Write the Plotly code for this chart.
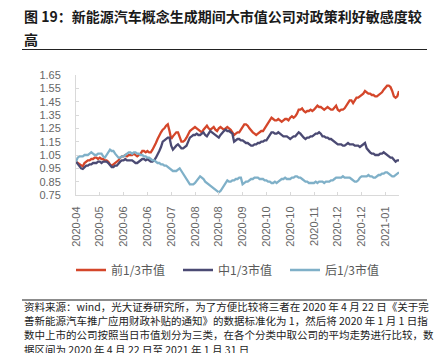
import plotly.graph_objects as go

tick_labels = ["2020-04", "2020-05", "2020-06", "2020-06", "2020-07", "2020-08", "2020-08",
               "2020-09", "2020-10", "2020-10", "2020-11", "2020-12", "2020-12", "2021-01"]
tick_step = 14

top_third = [
    1.00, 0.99, 0.98, 0.97, 0.965, 0.99, 1.00, 1.01, 1.01, 1.02,
    1.02, 1.03, 1.03, 1.02, 1.03, 1.02, 1.02, 1.01, 1.01, 1.00,
    0.98, 0.97, 0.98, 0.99, 1.00, 1.01, 1.03, 1.04, 1.04, 1.05,
    1.04, 1.05, 1.05, 1.05, 1.06, 1.05, 1.04, 1.05, 1.06, 1.08,
    1.08, 1.07, 1.08, 1.07, 1.07, 1.09, 1.11, 1.14, 1.17, 1.20,
    1.22, 1.24, 1.25, 1.27, 1.28, 1.23, 1.17, 1.19, 1.21, 1.22,
    1.22, 1.19, 1.15, 1.15, 1.16, 1.18, 1.21, 1.23, 1.24, 1.25,
    1.26, 1.25, 1.24, 1.23, 1.22, 1.24, 1.26, 1.27, 1.25, 1.24,
    1.25, 1.26, 1.24, 1.23, 1.25, 1.26, 1.25, 1.24, 1.25, 1.26,
    1.25, 1.24, 1.22, 1.20, 1.21, 1.22, 1.22, 1.24, 1.26, 1.28,
    1.28, 1.27, 1.25, 1.23, 1.22, 1.21, 1.20, 1.21, 1.22, 1.23,
    1.23, 1.25, 1.27, 1.28, 1.31, 1.33, 1.32, 1.31, 1.31, 1.32,
    1.31, 1.30, 1.31, 1.32, 1.32, 1.31, 1.33, 1.34, 1.33, 1.34,
    1.36, 1.39, 1.39, 1.40, 1.38, 1.37, 1.38, 1.38, 1.39, 1.38,
    1.39, 1.41, 1.42, 1.41, 1.41, 1.40, 1.39, 1.40, 1.41, 1.40,
    1.39, 1.39, 1.41, 1.42, 1.39, 1.38, 1.39, 1.39, 1.40, 1.42,
    1.45, 1.46, 1.46, 1.44, 1.46, 1.48, 1.48, 1.49, 1.50, 1.51,
    1.53, 1.52, 1.51, 1.51, 1.50, 1.50, 1.49, 1.49, 1.50, 1.51,
    1.52, 1.54, 1.56, 1.57, 1.57, 1.56, 1.53, 1.49, 1.48, 1.49,
    1.53,
]

mid_third = [
    1.00, 0.98, 0.97, 0.95, 0.945, 0.96, 0.97, 0.97, 0.98, 0.98,
    0.99, 0.99, 0.99, 1.00, 1.00, 0.99, 1.00, 1.00, 1.00, 0.99,
    0.97, 0.96, 0.96, 0.97, 0.97, 0.99, 1.00, 1.01, 1.01, 1.02,
    1.01, 1.01, 1.01, 1.01, 1.00, 0.99, 0.99, 1.00, 1.01, 1.02,
    1.02, 1.01, 1.02, 1.01, 1.00, 1.00, 1.01, 1.03, 1.05, 1.08,
    1.11, 1.15, 1.16, 1.17, 1.18, 1.18, 1.12, 1.09, 1.11, 1.12,
    1.13, 1.11, 1.10, 1.10, 1.11, 1.12, 1.15, 1.18, 1.19, 1.20,
    1.20, 1.21, 1.20, 1.20, 1.21, 1.22, 1.20, 1.19, 1.21, 1.23,
    1.22, 1.21, 1.20, 1.19, 1.18, 1.20, 1.22, 1.23, 1.24, 1.23,
    1.23, 1.22, 1.21, 1.15, 1.16, 1.17, 1.17, 1.16, 1.16, 1.15,
    1.14, 1.14, 1.13, 1.12, 1.12, 1.13, 1.13, 1.14, 1.14, 1.15,
    1.15, 1.16, 1.16, 1.18, 1.20, 1.22, 1.22, 1.21, 1.21, 1.22,
    1.21, 1.20, 1.19, 1.19, 1.19, 1.18, 1.17, 1.18, 1.19, 1.19,
    1.21, 1.22, 1.21, 1.19, 1.18, 1.17, 1.18, 1.18, 1.19, 1.19,
    1.20, 1.21, 1.21, 1.22, 1.21, 1.19, 1.19, 1.18, 1.18, 1.17,
    1.17, 1.16, 1.15, 1.14, 1.13, 1.13, 1.13, 1.12, 1.12, 1.13,
    1.14, 1.13, 1.13, 1.13, 1.12, 1.12, 1.12, 1.11, 1.12, 1.13,
    1.14, 1.10, 1.08, 1.07, 1.06, 1.06, 1.05, 1.05, 1.05, 1.06,
    1.06, 1.07, 1.06, 1.05, 1.04, 1.03, 1.03, 1.01, 1.00, 1.01,
    1.01,
]

low_third = [
    1.00, 1.03, 1.04, 1.04, 1.04, 1.05, 1.05, 1.05, 1.06, 1.07,
    1.06, 1.05, 1.05, 1.06, 1.06, 1.06, 1.04, 1.03, 1.05, 1.07,
    1.09, 1.08, 1.08, 1.06, 1.04, 1.03, 1.03, 1.04, 1.04, 1.05,
    1.06, 1.07, 1.07, 1.06, 1.07, 1.07, 1.06, 1.06, 1.05, 1.05,
    1.04, 1.04, 1.03, 1.03, 1.02, 1.01, 1.01, 1.00, 0.99, 0.99,
    0.98, 0.98, 0.97, 0.97, 0.96, 0.95, 0.94, 0.93, 0.93, 0.93,
    0.94, 0.95, 0.93, 0.91, 0.89, 0.87, 0.85, 0.83, 0.83, 0.83,
    0.84, 0.86, 0.88, 0.89, 0.88, 0.87, 0.85, 0.84, 0.83, 0.82,
    0.81, 0.80, 0.79, 0.78, 0.77, 0.78, 0.80, 0.82, 0.84, 0.86,
    0.85, 0.85, 0.86, 0.86, 0.87, 0.87, 0.88, 0.88, 0.83, 0.84,
    0.85, 0.85, 0.86, 0.87, 0.87, 0.88, 0.88, 0.88, 0.87, 0.87,
    0.87, 0.86, 0.86, 0.85, 0.85, 0.84, 0.84, 0.85, 0.84, 0.85,
    0.86, 0.87, 0.87, 0.88, 0.87, 0.87, 0.87, 0.88, 0.88, 0.89,
    0.89, 0.88, 0.88, 0.87, 0.86, 0.85, 0.85, 0.84, 0.84, 0.84,
    0.84, 0.85, 0.84, 0.85, 0.85, 0.85, 0.84, 0.85, 0.85, 0.85,
    0.86, 0.86, 0.87, 0.88, 0.88, 0.88, 0.88, 0.89, 0.88, 0.88,
    0.88, 0.88, 0.87, 0.86, 0.85, 0.85, 0.86, 0.88, 0.89, 0.89,
    0.89, 0.89, 0.90, 0.89, 0.89, 0.88, 0.88, 0.89, 0.90, 0.90,
    0.91, 0.91, 0.92, 0.92, 0.91, 0.90, 0.89, 0.89, 0.90, 0.91,
    0.92,
]

series_names = ["前1/3市值", "中1/3市值", "后1/3市值"]
series_colors = ["#D4462A", "#4B4A73", "#7FB0C8"]

title_line1 = "图 19：新能源汽车概念生成期间大市值公司对政策利好敏感度较"
title_line2 = "高"
source_lines = [
    "资料来源：wind，光大证券研究所，为了方便比较将三者在 2020 年 4 月 22 日《关于完",
    "善新能源汽车推广应用财政补贴的通知》的数据标准化为 1，然后将 2020 年 1 月 1 日指",
    "数中上市的公司按照当日市值划分为三类，在各个分类中取公司的平均走势进行比较，数",
    "据区间为 2020 年 4 月 22 日至 2021 年 1 月 31 日",
]

CJK = "Noto Sans CJK SC"
LAT = "Liberation Sans, Arial, sans-serif"

x_idx = list(range(len(top_third)))

fig = go.Figure()
for name, vals, col in zip(series_names, [top_third, mid_third, low_third], series_colors):
    fig.add_trace(go.Scatter(x=x_idx, y=vals, mode="lines", name=name,
                             line=dict(color=col, width=2.3)))

# pixel helpers for decorations (plot area: x 76..399, y 75..195)
L, R, T, B = 76, 399, 75, 195
def px(X):
    return (X - L) / (R - L)
def py(Y):
    return (B - Y) / (B - T)

annotations = [
    dict(text="<b>%s</b>" % title_line1, x=px(22), y=py(16), xref="paper", yref="paper",
         xanchor="left", yanchor="middle", showarrow=False,
         font=dict(family=CJK, size=14, color="#1a1a1a")),
    dict(text="<b>%s</b>" % title_line2, x=px(22), y=py(39), xref="paper", yref="paper",
         xanchor="left", yanchor="middle", showarrow=False,
         font=dict(family=CJK, size=14, color="#1a1a1a")),
]
for i, line in enumerate(source_lines):
    annotations.append(dict(text=line, x=px(22), y=py(306.5 + i * 14.2), xref="paper", yref="paper",
                            xanchor="left", yanchor="middle", showarrow=False,
                            font=dict(family=CJK, size=10.5, color="#222222")))

shapes = [
    dict(type="line", xref="paper", yref="paper", x0=px(22), x1=px(427), y0=py(49.5), y1=py(49.5),
         line=dict(color="#222222", width=1)),
    dict(type="line", xref="paper", yref="paper", x0=px(22), x1=px(427), y0=py(300), y1=py(300),
         line=dict(color="#666666", width=1.5)),
]

fig.update_layout(
    width=435, height=353,
    margin=dict(l=L, r=435 - R, t=T, b=353 - B),
    paper_bgcolor="white", plot_bgcolor="white",
    showlegend=True,
    legend=dict(orientation="h", x=px(71), y=py(270), xanchor="left", yanchor="middle",
                font=dict(family=CJK, size=12, color="#595959"),
                entrywidth=62, entrywidthmode="pixels", itemwidth=30,
                bgcolor="rgba(0,0,0,0)"),
    annotations=annotations,
    shapes=shapes,
)
fig.update_xaxes(
    range=[0, len(top_third) - 1],
    tickmode="array",
    tickvals=[i * tick_step for i in range(len(tick_labels))],
    ticktext=tick_labels,
    tickangle=-90,
    showgrid=False, zeroline=False,
    showline=True, linecolor="#d9d9d9", linewidth=1,
    ticks="inside", ticklen=3, tickcolor="#d9d9d9",
    tickfont=dict(family=LAT, size=11, color="#666666"),
    ticklabelstandoff=6,
)
fig.update_yaxes(
    range=[0.75, 1.65],
    tickmode="array",
    tickvals=[0.75, 0.85, 0.95, 1.05, 1.15, 1.25, 1.35, 1.45, 1.55, 1.65],
    ticktext=["0.75", "0.85", "0.95", "1.05", "1.15", "1.25", "1.35", "1.45", "1.55", "1.65"],
    showgrid=False, zeroline=False,
    showline=True, linecolor="#d9d9d9", linewidth=1,
    ticks="inside", ticklen=3, tickcolor="#d9d9d9",
    tickfont=dict(family=LAT, size=11, color="#666666"),
    ticklabelstandoff=12,
)

fig.write_html("out.html")
